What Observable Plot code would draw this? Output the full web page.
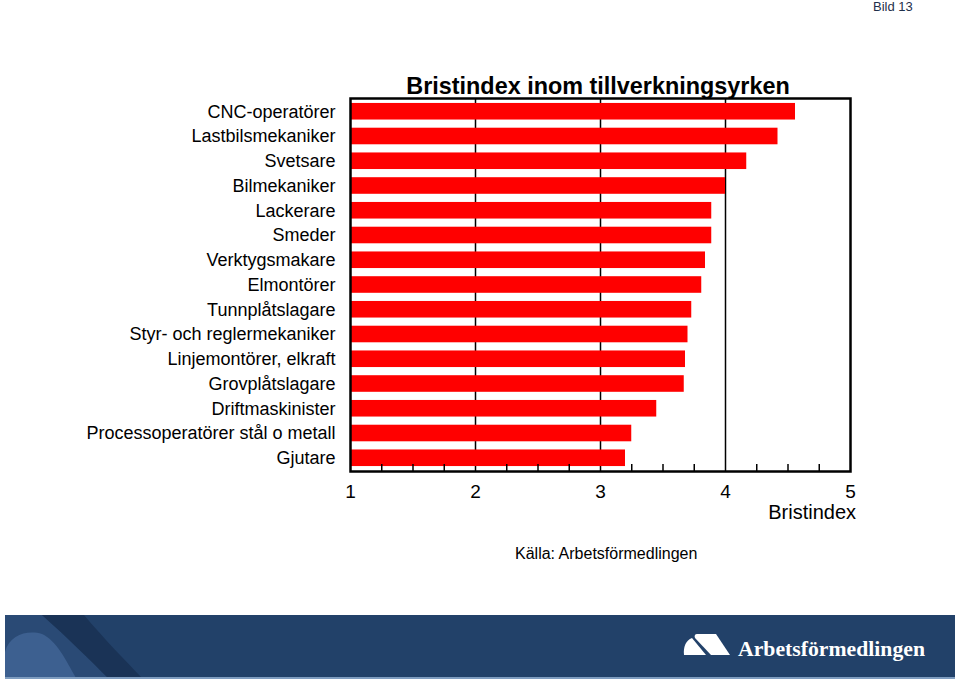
<!DOCTYPE html>
<html>
<head>
<meta charset="utf-8">
<script src="https://cdn.jsdelivr.net/npm/d3@7"></script>
<script src="https://cdn.jsdelivr.net/npm/@observablehq/plot@0.6"></script>
<style>
  html, body { margin: 0; padding: 0; background: #fff; }
  #wrap { position: relative; width: 960px; height: 681px; overflow: hidden; font-family: "Liberation Sans", Arial, sans-serif; }
  .abs { position: absolute; white-space: nowrap; }
  #chart { position: absolute; left: 0; top: 0; z-index: 2; }
</style>
</head>
<body>
<div id="wrap">
  <div class="abs" style="left:873px; top:0px; font-size:13px; line-height:14px; color:#1f2f4a;">Bild 13</div>
  <div class="abs" id="title" style="left:348px; width:500px; text-align:center; top:73px; font-size:23.4px; line-height:26px; font-weight:bold; color:#000; z-index:1;">Bristindex inom tillverkningsyrken</div>
  <div id="chart"></div>
  <div class="abs" style="right:104px; top:501px; font-size:20px; line-height:22px; color:#000;">Bristindex</div>
  <div class="abs" style="left:515px; top:544px; font-size:16px; line-height:19px; color:#000;">Källa: Arbetsförmedlingen</div>
  <svg class="abs" style="left:0; top:0;" width="960" height="681" viewBox="0 0 960 681">
    <rect x="5" y="615" width="950" height="64" fill="#224169"/>
    <path d="M5,615 L42,615 C70,640 90,660 108,678 L5,678 Z" fill="#2a4a75"/>
    <path d="M42,615 L84,615 C105,640 125,660 142,678 L108,678 C90,660 70,640 42,615 Z" fill="#1a3356"/>
    <path d="M5,678 L5,652 C10,634 28,630 42,634 C56,640 66,660 76,678 Z" fill="#3d6090"/>
    <rect x="5" y="677" width="950" height="2" fill="#7f9dc0"/>
    <path d="M697,634 L716,634 L730,655 L711,655 L695,638 C694,636 695,634 697,634 Z" fill="#fff"/>
    <path d="M684,655 C683,647 686,640 692,638 L706,655 Z" fill="#fff"/>
    <text x="738" y="656" fill="#fff" font-family="Liberation Serif, DejaVu Serif, serif" font-weight="bold" font-size="21" textLength="187" lengthAdjust="spacingAndGlyphs">Arbetsförmedlingen</text>
  </svg>
</div>
<script>
const occupations = [
  "CNC-operatörer",
  "Lastbilsmekaniker",
  "Svetsare",
  "Bilmekaniker",
  "Lackerare",
  "Smeder",
  "Verktygsmakare",
  "Elmontörer",
  "Tunnplåtslagare",
  "Styr- och reglermekaniker",
  "Linjemontörer, elkraft",
  "Grovplåtslagare",
  "Driftmaskinister",
  "Processoperatörer stål o metall",
  "Gjutare"
];
const values = [4.56, 4.42, 4.17, 4.00, 3.89, 3.89, 3.84, 3.81, 3.73, 3.70, 3.68, 3.67, 3.45, 3.25, 3.20];
const xTicks = [1, 2, 3, 4, 5];
const gridLines = [2, 3, 4];
const minorTicks = [1.25, 1.5, 1.75, 2.25, 2.5, 2.75, 3.25, 3.5, 3.75, 4.25, 4.5, 4.75];

const data = occupations.map((name, i) => ({name, value: values[i]}));

const H = 540, MT = 98, MB = 69;
const frameH = H - MT - MB;

const chart = Plot.plot({
  width: 960,
  height: H,
  marginLeft: 350,
  marginRight: 110,
  marginTop: MT,
  marginBottom: MB,
  style: {background: "transparent", fontFamily: "'Liberation Sans', Arial, sans-serif", color: "#000"},
  x: {domain: [1, 5]},
  y: {domain: occupations, paddingInner: 0.33, paddingOuter: 0.2, round: false},
  marks: [
    Plot.ruleX(gridLines, {stroke: "#000", strokeWidth: 1.5}),
    Plot.barX(data, {y: "name", x1: 1, x2: "value", fill: "#ff0000"}),
    Plot.tickX(minorTicks, {x: d => d, insetTop: frameH - 7, stroke: "#000", strokeWidth: 1.5}),
    Plot.frame({stroke: "#000", strokeWidth: 2.5}),
    Plot.axisY({tickSize: 0, tickPadding: 15, fontSize: 18, label: null, fill: "#000"}),
    Plot.axisX({ticks: xTicks, tickSize: 0, tickPadding: 13, fontSize: 19, label: null, tickFormat: d => String(d), fill: "#000"})
  ]
});
document.getElementById("chart").appendChild(chart);
</script>
</body>
</html>
